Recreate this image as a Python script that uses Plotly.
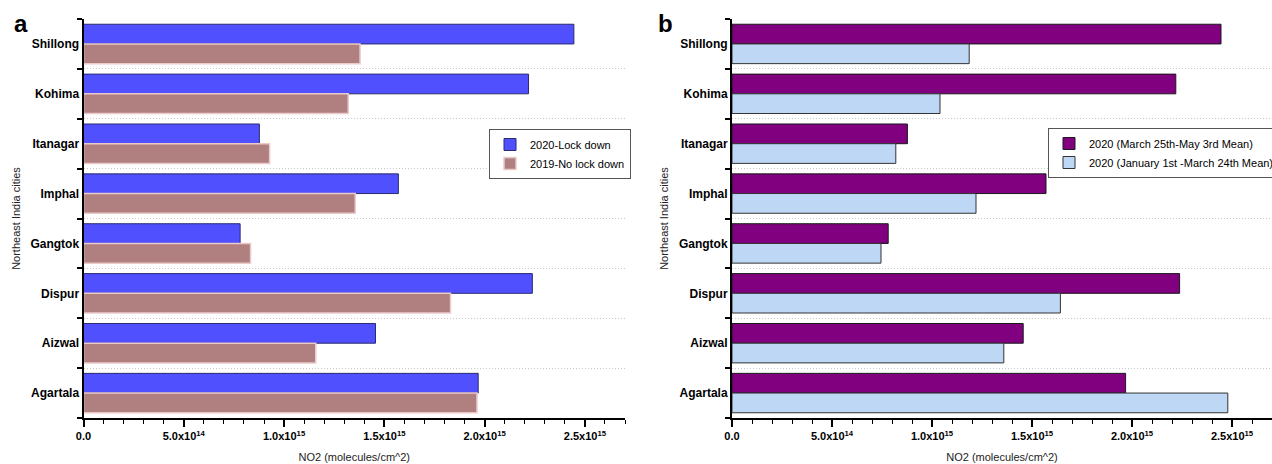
import plotly.graph_objects as go

cities = ["Shillong", "Kohima", "Itanagar", "Imphal", "Gangtok", "Dispur", "Aizwal", "Agartala"]
lockdown_2020 = [2.445e15, 2.219e15, 0.877e15, 1.570e15, 0.781e15, 2.238e15, 1.456e15, 1.968e15]
nolockdown_2019 = [1.379e15, 1.320e15, 0.928e15, 1.355e15, 0.833e15, 1.830e15, 1.158e15, 1.962e15]
pre_lockdown_2020 = [1.186e15, 1.040e15, 0.819e15, 1.220e15, 0.745e15, 1.642e15, 1.359e15, 2.479e15]

x_tickvals = [0, 5e14, 1e15, 1.5e15, 2e15, 2.5e15]
x_ticktext = ["<b>0.0</b>", "<b>5.0x10<sup>14</sup></b>", "<b>1.0x10<sup>15</sup></b>",
              "<b>1.5x10<sup>15</sup></b>", "<b>2.0x10<sup>15</sup></b>", "<b>2.5x10<sup>15</sup></b>"]
y_ticktext = ["<b>%s</b>" % c for c in cities]

FONT = "Arial, Liberation Sans, sans-serif"

fig = go.Figure()

# Panel a
fig.add_trace(go.Bar(y=cities, x=lockdown_2020, orientation="h", name="2020-Lock down",
                     marker=dict(color="#5050FF", line=dict(color="#2B2B70", width=1)),
                     xaxis="x", yaxis="y", legend="legend"))
fig.add_trace(go.Bar(y=cities, x=nolockdown_2019, orientation="h", name="2019-No lock down",
                     marker=dict(color="#B08080", line=dict(color="#EBCACA", width=1.5)),
                     xaxis="x", yaxis="y", legend="legend"))
# Panel b
fig.add_trace(go.Bar(y=cities, x=lockdown_2020, orientation="h", name="2020 (March 25th-May 3rd Mean)",
                     marker=dict(color="#800080", line=dict(color="#1A1A1A", width=1)),
                     xaxis="x2", yaxis="y2", legend="legend2"))
fig.add_trace(go.Bar(y=cities, x=pre_lockdown_2020, orientation="h", name="2020 (January 1st -March 24th Mean)",
                     marker=dict(color="#BDD7F5", line=dict(color="#333333", width=1)),
                     xaxis="x2", yaxis="y2", legend="legend2"))

W, H = 1272, 464
top_px, bot_px = 19, 418
ydom = [1 - bot_px / H, 1 - top_px / H]

def xaxis_cfg(dom, anchor):
    return dict(
        domain=dom, anchor=anchor, range=[0, 2.7e15],
        tickvals=x_tickvals, ticktext=x_ticktext,
        ticks="outside", ticklen=7, tickwidth=1.5, tickcolor="black",
        minor=dict(dtick=1e14, ticks="outside", ticklen=4, tickwidth=1.2, tickcolor="black", showgrid=False),
        showline=True, linecolor="black", linewidth=2,
        showgrid=False, zeroline=False,
        tickfont=dict(family=FONT, size=11, color="black"),
        title=dict(text="NO2 (molecules/cm^2)", font=dict(family=FONT, size=11, color="#222"), standoff=12),
    )

def yaxis_cfg(dom, anchor):
    return dict(
        domain=dom, anchor=anchor, type="category",
        categoryorder="array", categoryarray=cities, autorange="reversed",
        tickvals=cities, ticktext=y_ticktext,
        tickson="boundaries", ticks="outside", ticklen=5, tickwidth=1.5, tickcolor="black",
        showline=True, linecolor="black", linewidth=2,
        showgrid=True, gridcolor="#C8C8C8", griddash="1px,2px", gridwidth=1,
        tickfont=dict(family=FONT, size=12, color="black"),
        title=dict(text="Northeast India cities", font=dict(family=FONT, size=11, color="#222"), standoff=8),
    )

fig.update_layout(
    width=W, height=H,
    margin=dict(l=0, r=0, t=0, b=0, autoexpand=False),
    paper_bgcolor="white", plot_bgcolor="white",
    barmode="group", bargap=0.21, bargroupgap=0,
    font=dict(family=FONT, color="black"),
    xaxis=xaxis_cfg([83.5 / W, 625 / W], "y"),
    yaxis=yaxis_cfg(ydom, "x"),
    xaxis2=xaxis_cfg([732 / W, 1.0], "y2"),
    yaxis2=yaxis_cfg(ydom, "x2"),
    legend=dict(x=489 / W, y=1 - 129 / H, xanchor="left", yanchor="top",
                bgcolor="white", bordercolor="#555555", borderwidth=1,
                font=dict(family=FONT, size=11, color="black"), tracegroupgap=0,
                itemwidth=30),
    legend2=dict(x=1048 / W, y=1 - 128 / H, xanchor="left", yanchor="top",
                 bgcolor="white", bordercolor="#555555", borderwidth=1,
                 font=dict(family=FONT, size=11, color="black"), tracegroupgap=0,
                 itemwidth=30),
    showlegend=True,
    annotations=[
        dict(text="<b>a</b>", x=12 / W, y=1 - 8 / H, xref="paper", yref="paper",
             xanchor="left", yanchor="top", showarrow=False, font=dict(family=FONT, size=24, color="black")),
        dict(text="<b>b</b>", x=656 / W, y=1 - 8 / H, xref="paper", yref="paper",
             xanchor="left", yanchor="top", showarrow=False, font=dict(family=FONT, size=24, color="black")),
    ],
)

fig.write_html("out.html")
